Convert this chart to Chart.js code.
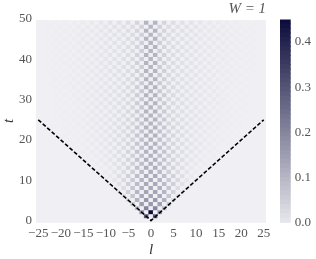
<!DOCTYPE html>
<html><head><meta charset="utf-8">
<style>html,body{margin:0;padding:0;background:#fff}
canvas{position:absolute;top:0;display:block}</style>
<script src="https://cdn.jsdelivr.net/npm/chart.js@4"></script>
</head><body>
<canvas id="c" width="316" height="259" style="left:0"></canvas>
<canvas id="b" width="36" height="259" style="left:280px"></canvas>
<script>
const lValues=[-25,-24,-23,-22,-21,-20,-19,-18,-17,-16,-15,-14,-13,-12,-11,-10,-9,-8,-7,-6,-5,-4,-3,-2,-1,0,1,2,3,4,5,6,7,8,9,10,11,12,13,14,15,16,17,18,19,20,21,22,23,24,25];
const xTicks=[-25,-20,-15,-10,-5,0,5,10,15,20,25];
const yTicks=[0,10,20,30,40,50];
const cbTicks=[0,0.1,0.2,0.3,0.4];
const coneL=[-25,0,25];
const coneT=[25,0,25];
const t00=[0,0,0,0,0,0,0,0,0,0,0,0,0,0,0,0,0,0,0,0,0,0,0,0,0,0,0,0,0,0,0,0,0,0,0,0,0,0,0,0,0,0,0,0,0,0,0,0,0,0,0];
const t01=[0,0,0,0,0,0,0,0,0,0,0,0,0,0,0,0,0,0,0,0,0,0,0,0,300,0,300,0,0,0,0,0,0,0,0,0,0,0,0,0,0,0,0,0,0,0,0,0,0,0,0];
const t02=[0,0,0,0,0,0,0,0,0,0,0,0,0,0,0,0,0,0,0,0,0,0,0,190,0,450,0,190,0,0,0,0,0,0,0,0,0,0,0,0,0,0,0,0,0,0,0,0,0,0,0];
const t03=[0,0,0,0,0,0,0,0,0,0,0,0,0,0,0,0,0,0,0,0,0,0,110,0,210,0,210,0,110,0,0,0,0,0,0,0,0,0,0,0,0,0,0,0,0,0,0,0,0,0,0];
const t04=[0,0,0,0,0,0,0,0,0,0,0,0,0,0,0,0,0,0,0,0,0,70,0,160,0,170,0,160,0,70,0,0,0,0,0,0,0,0,0,0,0,0,0,0,0,0,0,0,0,0,0];
const t05=[0,0,0,0,0,0,0,0,0,0,0,0,0,0,0,0,0,0,0,0,40,0,125,0,170,0,170,0,125,0,40,0,0,0,0,0,0,0,0,0,0,0,0,0,0,0,0,0,0,0,0];
const t06=[0,0,0,0,0,0,0,0,0,0,0,0,0,0,0,0,0,0,0,25,0,85,0,140,0,150,0,140,0,85,0,25,0,0,0,0,0,0,0,0,0,0,0,0,0,0,0,0,0,0,0];
const t07=[0,0,0,0,0,0,0,0,0,0,0,0,0,0,0,0,0,0,18,0,60,0,115,0,150,0,150,0,115,0,60,0,18,0,0,0,0,0,0,0,0,0,0,0,0,0,0,0,0,0,0];
const t08=[0,0,0,0,0,0,0,0,0,0,0,0,0,0,0,0,0,12,0,40,0,85,0,125,0,140,0,125,0,85,0,40,0,12,0,0,0,0,0,0,0,0,0,0,0,0,0,0,0,0,0];
const t09=[0,0,0,0,0,0,0,0,0,0,0,0,0,0,0,0,10,0,30,0,65,0,105,0,140,0,140,0,105,0,65,0,30,0,10,0,0,0,0,0,0,0,0,0,0,0,0,0,0,0,0];
const t10=[0,0,0,0,0,0,0,0,0,0,0,0,0,0,0,8,0,20,0,45,0,75,0,115,0,135,0,115,0,75,0,45,0,20,0,8,0,0,0,0,0,0,0,0,0,0,0,0,0,0,0];
const t11=[0,0,0,0,0,0,0,0,0,0,0,0,0,0,6,0,14,0,35,0,60,0,100,0,135,0,135,0,100,0,60,0,35,0,14,0,6,0,0,0,0,0,0,0,0,0,0,0,0,0,0];
const t12=[0,0,0,0,0,0,0,0,0,0,0,0,0,4,0,10,0,22,0,40,0,65,0,105,0,130,0,105,0,65,0,40,0,22,0,10,0,4,0,0,0,0,0,0,0,0,0,0,0,0,0];
const t13=[0,0,0,0,0,0,0,0,0,0,0,0,4,0,8,0,18,0,33,0,55,0,92,0,130,0,130,0,92,0,55,0,33,0,18,0,8,0,4,0,0,0,0,0,0,0,0,0,0,0,0];
const t14=[0,0,0,0,0,0,0,0,0,0,0,3,0,7,0,15,0,26,0,42,0,65,0,100,0,125,0,100,0,65,0,42,0,26,0,15,0,7,0,3,0,0,0,0,0,0,0,0,0,0,0];
const t15=[0,0,0,0,0,0,0,0,0,0,3,0,6,0,13,0,22,0,36,0,55,0,88,0,125,0,125,0,88,0,55,0,36,0,22,0,13,0,6,0,3,0,0,0,0,0,0,0,0,0,0];
const t16=[0,0,0,0,0,0,0,0,0,0,0,5,0,10,0,17,0,27,0,40,0,62,0,95,0,122,0,95,0,62,0,40,0,27,0,17,0,10,0,5,0,0,0,0,0,0,0,0,0,0,0];
const t17=[0,0,0,0,0,0,0,0,0,0,4,0,9,0,15,0,24,0,36,0,55,0,85,0,122,0,122,0,85,0,55,0,36,0,24,0,15,0,9,0,4,0,0,0,0,0,0,0,0,0,0];
const t18=[0,0,0,0,0,0,0,0,0,3,0,7,0,12,0,19,0,28,0,40,0,60,0,92,0,120,0,92,0,60,0,40,0,28,0,19,0,12,0,7,0,3,0,0,0,0,0,0,0,0,0];
const t19=[0,0,0,0,0,0,0,0,3,0,6,0,11,0,17,0,25,0,36,0,52,0,82,0,120,0,120,0,82,0,52,0,36,0,25,0,17,0,11,0,6,0,3,0,0,0,0,0,0,0,0];
const t20=[0,0,0,0,0,0,0,3,0,5,0,9,0,14,0,20,0,29,0,40,0,58,0,90,0,118,0,90,0,58,0,40,0,29,0,20,0,14,0,9,0,5,0,3,0,0,0,0,0,0,0];
const t21=[0,0,0,0,0,0,2,0,4,0,8,0,12,0,18,0,26,0,36,0,50,0,80,0,120,0,120,0,80,0,50,0,36,0,26,0,18,0,12,0,8,0,4,0,2,0,0,0,0,0,0];
const t22=[0,0,0,0,0,0,0,3,0,6,0,10,0,15,0,21,0,29,0,39,0,56,0,88,0,118,0,88,0,56,0,39,0,29,0,21,0,15,0,10,0,6,0,3,0,0,0,0,0,0,0];
const t23=[0,0,0,0,0,0,3,0,5,0,9,0,13,0,18,0,26,0,35,0,48,0,76,0,118,0,118,0,76,0,48,0,35,0,26,0,18,0,13,0,9,0,5,0,3,0,0,0,0,0,0];
const t24=[0,0,0,0,0,2,0,4,0,7,0,11,0,16,0,22,0,29,0,38,0,54,0,85,0,116,0,85,0,54,0,38,0,29,0,22,0,16,0,11,0,7,0,4,0,2,0,0,0,0,0];
const t25=[0,0,0,0,0,0,4,0,6,0,10,0,14,0,19,0,26,0,34,0,46,0,74,0,118,0,118,0,74,0,46,0,34,0,26,0,19,0,14,0,10,0,6,0,4,0,0,0,0,0,0];
const t26=[0,0,0,0,0,2,0,5,0,8,0,12,0,16,0,22,0,28,0,37,0,52,0,82,0,115,0,82,0,52,0,37,0,28,0,22,0,16,0,12,0,8,0,5,0,2,0,0,0,0,0];
const t27=[0,0,0,0,2,0,4,0,7,0,10,0,14,0,19,0,25,0,33,0,45,0,72,0,118,0,118,0,72,0,45,0,33,0,25,0,19,0,14,0,10,0,7,0,4,0,2,0,0,0,0];
const t28=[0,0,0,0,0,3,0,5,0,8,0,12,0,17,0,22,0,28,0,36,0,50,0,80,0,115,0,80,0,50,0,36,0,28,0,22,0,17,0,12,0,8,0,5,0,3,0,0,0,0,0];
const t29=[0,0,0,0,3,0,5,0,8,0,11,0,15,0,20,0,25,0,33,0,44,0,70,0,118,0,118,0,70,0,44,0,33,0,25,0,20,0,15,0,11,0,8,0,5,0,3,0,0,0,0];
const t30=[0,0,0,0,0,3,0,6,0,9,0,13,0,17,0,22,0,28,0,35,0,48,0,78,0,114,0,78,0,48,0,35,0,28,0,22,0,17,0,13,0,9,0,6,0,3,0,0,0,0,0];
const t31=[0,0,0,0,3,0,5,0,8,0,11,0,15,0,20,0,25,0,32,0,43,0,68,0,118,0,118,0,68,0,43,0,32,0,25,0,20,0,15,0,11,0,8,0,5,0,3,0,0,0,0];
const t32=[0,0,0,2,0,4,0,6,0,9,0,13,0,17,0,22,0,28,0,35,0,47,0,76,0,114,0,76,0,47,0,35,0,28,0,22,0,17,0,13,0,9,0,6,0,4,0,2,0,0,0];
const t33=[0,0,0,0,4,0,6,0,9,0,12,0,16,0,20,0,25,0,32,0,42,0,66,0,118,0,118,0,66,0,42,0,32,0,25,0,20,0,16,0,12,0,9,0,6,0,4,0,0,0,0];
const t34=[0,0,0,2,0,4,0,7,0,10,0,14,0,18,0,22,0,28,0,35,0,46,0,74,0,114,0,74,0,46,0,35,0,28,0,22,0,18,0,14,0,10,0,7,0,4,0,2,0,0,0];
const t35=[0,0,0,0,4,0,6,0,9,0,12,0,16,0,20,0,25,0,31,0,41,0,64,0,118,0,118,0,64,0,41,0,31,0,25,0,20,0,16,0,12,0,9,0,6,0,4,0,0,0,0];
const t36=[0,0,0,2,0,5,0,7,0,10,0,14,0,18,0,22,0,27,0,34,0,45,0,72,0,114,0,72,0,45,0,34,0,27,0,22,0,18,0,14,0,10,0,7,0,5,0,2,0,0,0];
const t37=[0,0,2,0,4,0,6,0,9,0,12,0,16,0,20,0,25,0,31,0,40,0,62,0,118,0,118,0,62,0,40,0,31,0,25,0,20,0,16,0,12,0,9,0,6,0,4,0,2,0,0];
const t38=[0,0,0,3,0,5,0,7,0,10,0,14,0,18,0,22,0,27,0,34,0,44,0,70,0,114,0,70,0,44,0,34,0,27,0,22,0,18,0,14,0,10,0,7,0,5,0,3,0,0,0];
const t39=[0,0,2,0,4,0,7,0,9,0,12,0,16,0,20,0,25,0,31,0,39,0,60,0,118,0,118,0,60,0,39,0,31,0,25,0,20,0,16,0,12,0,9,0,7,0,4,0,2,0,0];
const t40=[0,0,0,3,0,5,0,8,0,11,0,14,0,18,0,22,0,27,0,33,0,43,0,68,0,114,0,68,0,43,0,33,0,27,0,22,0,18,0,14,0,11,0,8,0,5,0,3,0,0,0];
const t41=[0,0,3,0,5,0,7,0,9,0,12,0,16,0,20,0,25,0,30,0,38,0,58,0,118,0,118,0,58,0,38,0,30,0,25,0,20,0,16,0,12,0,9,0,7,0,5,0,3,0,0];
const t42=[0,0,0,3,0,5,0,8,0,11,0,14,0,18,0,22,0,27,0,33,0,42,0,66,0,114,0,66,0,42,0,33,0,27,0,22,0,18,0,14,0,11,0,8,0,5,0,3,0,0,0];
const t43=[0,0,3,0,5,0,7,0,9,0,13,0,16,0,20,0,25,0,30,0,38,0,56,0,118,0,118,0,56,0,38,0,30,0,25,0,20,0,16,0,13,0,9,0,7,0,5,0,3,0,0];
const t44=[0,0,0,3,0,5,0,8,0,11,0,14,0,18,0,22,0,27,0,32,0,41,0,64,0,114,0,64,0,41,0,32,0,27,0,22,0,18,0,14,0,11,0,8,0,5,0,3,0,0,0];
const t45=[0,0,3,0,5,0,7,0,10,0,13,0,16,0,20,0,25,0,30,0,37,0,55,0,118,0,118,0,55,0,37,0,30,0,25,0,20,0,16,0,13,0,10,0,7,0,5,0,3,0,0];
const t46=[0,0,0,3,0,5,0,8,0,11,0,14,0,18,0,22,0,27,0,32,0,41,0,62,0,114,0,62,0,41,0,32,0,27,0,22,0,18,0,14,0,11,0,8,0,5,0,3,0,0,0];
const t47=[0,0,3,0,5,0,7,0,10,0,13,0,16,0,20,0,25,0,30,0,37,0,54,0,118,0,118,0,54,0,37,0,30,0,25,0,20,0,16,0,13,0,10,0,7,0,5,0,3,0,0];
const t48=[0,0,0,3,0,5,0,8,0,11,0,14,0,18,0,22,0,27,0,32,0,40,0,60,0,114,0,60,0,40,0,32,0,27,0,22,0,18,0,14,0,11,0,8,0,5,0,3,0,0,0];
const t49=[0,0,2,0,3,0,5,0,8,0,12,0,16,0,20,0,25,0,30,0,37,0,53,0,118,0,118,0,53,0,37,0,30,0,25,0,20,0,16,0,12,0,8,0,5,0,3,0,2,0,0];
const rows=[t00,t01,t02,t03,t04,t05,t06,t07,t08,t09,t10,t11,t12,t13,t14,t15,t16,t17,t18,t19,t20,t21,t22,t23,t24,t25,t26,t27,t28,t29,t30,t31,t32,t33,t34,t35,t36,t37,t38,t39,t40,t41,t42,t43,t44,t45,t46,t47,t48,t49];
const serif='"Liberation Serif","DejaVu Serif",serif';
const TICK='#555';
const LOW=[240,240,244],CBLOW=[230,230,236],HIGH=[11,11,59],VMAX=450;
function mix(low,v){const f=Math.min(1,v/VMAX);return 'rgb('+low.map((c,i)=>Math.round(c+(HIGH[i]-c)*f)).join(',')+')';}
const datasets=rows.map((r,t)=>({type:'bar',order:2,grouped:false,barPercentage:1,categoryPercentage:1,borderWidth:0,borderSkipped:false,
  data:r.map((v,i)=>({x:lValues[i],y:[t-0.5,t+0.5]})),backgroundColor:r.map(v=>mix(LOW,v))}));
datasets.push({type:'line',order:1,data:coneL.map((l,i)=>({x:l,y:coneT[i]})),borderColor:'#000',borderWidth:1.6,borderDash:[4,2],pointRadius:0,tension:0});
const areaBg={id:'areaBg',beforeDraw(ch){const a=ch.chartArea,c=ch.ctx;c.save();c.fillStyle='rgb(240,240,244)';c.fillRect(a.left,a.top,a.right-a.left,a.bottom-a.top);c.restore();}};
new Chart(document.getElementById('c'),{type:'bar',data:{datasets},plugins:[areaBg],options:{responsive:false,animation:false,
  layout:{padding:{right:50,left:0,top:0,bottom:0}},
  plugins:{legend:{display:false},tooltip:{enabled:false},
    title:{display:true,text:'W = 1',align:'end',fullSize:false,color:'#555',font:{family:serif,style:'italic',size:15,weight:'normal',lineHeight:1.2},padding:{top:0,bottom:1}}},
  scales:{
    x:{type:'linear',min:-25.5,max:25.5,offset:false,afterBuildTicks(s){s.ticks=xTicks.map(v=>({value:v}));},afterFit(s){s.height=36.4;},
      grid:{color:'#fff',lineWidth:1,drawTicks:false},border:{display:false},
      ticks:{autoSkip:false,maxRotation:0,padding:3,color:TICK,font:{family:serif,size:13},callback:v=>v<0?'\u2212'+(-v):''+v},
      title:{display:true,text:'l',color:'#333',padding:{top:0,bottom:0},font:{family:serif,style:'italic',size:15}}},
    y:{type:'linear',min:-0.5,max:50,afterBuildTicks(s){s.ticks=yTicks.map(v=>({value:v}));},afterFit(s){s.width=36;},
      grid:{color:'#fff',lineWidth:1,drawTicks:false},border:{display:false},
      ticks:{padding:4,color:TICK,font:{family:serif,size:13}},
      title:{display:true,text:'t',color:'#333',padding:{top:0,bottom:0},font:{family:serif,style:'italic',size:15}}}
  }}});
const cbLevels=[0,10,20,30,40,50,60,70,80,90,100,110,120,130,140,150,160,170,180,190,200,210,220,230,240,250,260,270,280,290,300,310,320,330,340,350,360,370,380,390,400,410,420,430,440];
new Chart(document.getElementById('b'),{type:'bar',data:{labels:['c'],datasets:cbLevels.map(v=>({grouped:false,barPercentage:1,categoryPercentage:1,borderWidth:0,borderSkipped:false,
    data:[[v/1000,(v+10.5)/1000]],backgroundColor:mix(CBLOW,v+5)}))},
  options:{responsive:false,animation:false,layout:{padding:{top:19.5,bottom:36.3,left:0,right:0}},
  plugins:{legend:{display:false},tooltip:{enabled:false}},
  scales:{x:{display:false},
    y:{position:'right',min:0,max:0.45,afterBuildTicks(s){s.ticks=cbTicks.map(v=>({value:v}));},afterFit(s){s.width=25.3;},
      grid:{display:false,drawTicks:false},border:{display:false},
      ticks:{padding:4,color:TICK,font:{family:serif,size:13},callback:v=>v.toFixed(1)}}}}});
</script>
</body></html>
